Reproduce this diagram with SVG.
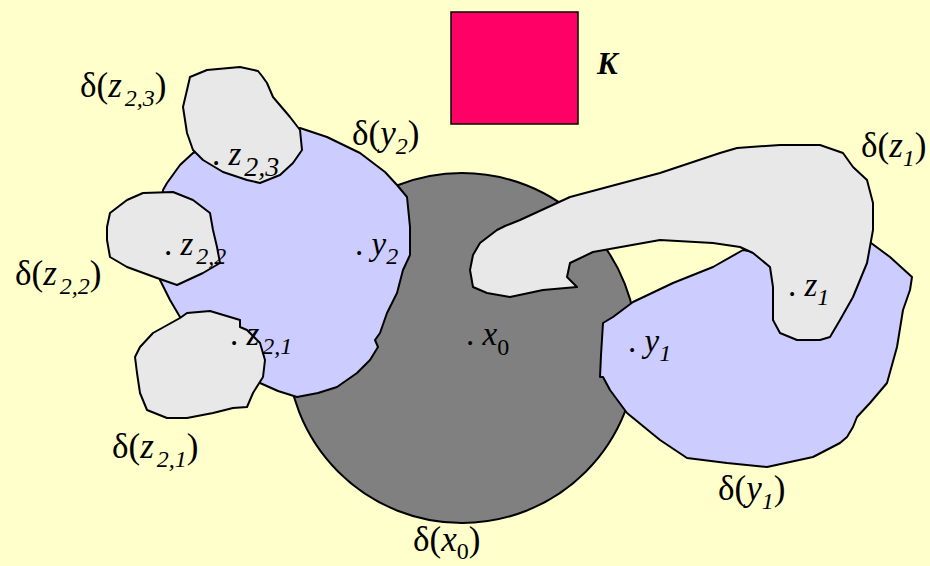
<svg xmlns="http://www.w3.org/2000/svg" width="930" height="566" viewBox="0 0 930 566">
<style>
.sh{stroke:#000;stroke-width:2;stroke-linejoin:round}
.lav{fill:#CCCCFF}
.gry{fill:#E8E8E8}
text{font-family:"Liberation Serif","Times New Roman",serif;font-size:35px;fill:#000}
.pt{font-size:33px}
.i{font-style:italic}
.s{font-size:24px}
.s2{font-size:28px}
</style>
<rect width="930" height="566" fill="#FFFFCC"/>
<g id="K">
<rect x="451" y="12" width="127" height="112" fill="#FF0066" stroke="#000" stroke-width="1.5"/>
<text x="597" y="74" style="font-weight:bold;font-style:italic;font-size:31px">K</text>
</g>
<g id="x0">
<circle cx="462" cy="348" r="175" fill="#808080" class="sh"/>
</g>
<g id="y2">
<path class="sh lav" d="M300,128 L327,137 L360,153 L385,172 L397,185 L407,197 L410,227 L410,255 L403,270 L397,293 L387,313 L380,333 L375,340 L378,347 L370,360 L357,373 L337,387 L318,393 L297,397 L278,391 L260,383 L240,375 L180,317 L170,300 L160,280 L160,230 L163,190 L167,183 L180,165 L193,153 L230,140 L270,130 Z"/>
</g>
<g id="z23">
<path class="sh gry" d="M190,77 L207,70 L240,67 L258,71 L262,76 L267,83 L273,97 L290,117 L300,130 L302,150 L293,163 L280,175 L260,183 L247,180 L223,172 L203,160 L193,150 L187,133 L183,107 L187,90 Z"/>
</g>
<g id="z22">
<path class="sh gry" d="M110,213 L127,200 L143,193 L173,192 L193,200 L210,213 L213,230 L217,247 L220,263 L203,273 L177,285 L157,278 L127,267 L110,257 L107,240 L107,227 Z"/>
</g>
<g id="z21">
<path class="sh gry" d="M140,347 L153,333 L180,318 L187,313 L210,311 L240,320 L240,327 L247,330 L260,343 L265,360 L263,377 L253,393 L247,407 L233,408 L213,413 L187,418 L167,418 L147,410 L140,393 L137,373 L135,357 Z"/>
</g>
<g id="y1">
<path class="sh lav" d="M603,323 L613,317 L633,302 L673,283 L713,267 L743,250 L760,253 L800,260 L867,240 L890,257 L912,277 L910,290 L903,310 L897,347 L887,383 L870,403 L857,417 L853,427 L847,437 L840,443 L813,457 L767,467 L727,463 L687,458 L660,440 L627,413 L610,390 L603,377 L600,377 L601,355 Z"/>
</g>
<g id="z1">
<path class="sh gry" d="M473,287 L470,270 L473,255 L480,243 L497,230 L505,226 L520,220 L570,197 L660,173 L720,153 L737,148 L780,145 L820,145 L843,153 L853,167 L867,180 L873,203 L873,230 L867,263 L853,297 L840,320 L830,337 L820,340 L797,340 L780,333 L773,320 L773,287 L770,267 L753,253 L740,247 L713,243 L660,240 L593,252 L570,263 L567,277 L573,283 L577,287 L543,290 L510,297 L487,293 Z"/>
</g>
<g id="labels">
<text x="80" y="97">δ(<tspan class="i">z</tspan><tspan class="s i" dx="3" dy="9">2,3</tspan><tspan dy="-9">)</tspan></text>
<text x="352" y="145">δ(<tspan class="i">y</tspan><tspan class="s i" dy="9">2</tspan><tspan dy="-9">)</tspan></text>
<text x="212" y="165" class="pt">. <tspan class="i">z</tspan><tspan class="s2 i" dx="3" dy="11">2,3</tspan></text>
<text x="164" y="255" class="pt">. <tspan class="i">z</tspan><tspan class="s i" dx="3" dy="9">2,2</tspan></text>
<text x="15" y="285">δ(<tspan class="i">z</tspan><tspan class="s i" dx="3" dy="9">2,2</tspan><tspan dy="-9">)</tspan></text>
<text x="355" y="255" class="pt">. <tspan class="i">y</tspan><tspan class="s i" dy="9">2</tspan></text>
<text x="230" y="345" class="pt">. <tspan class="i">z</tspan><tspan class="s i" dx="3" dy="9">2,1</tspan></text>
<text x="112" y="458">δ(<tspan class="i">z</tspan><tspan class="s i" dx="3" dy="9">2,1</tspan><tspan dy="-9">)</tspan></text>
<text x="466" y="345" class="pt">. <tspan class="i">x</tspan><tspan class="s" dy="10">0</tspan></text>
<text x="413" y="551">δ(<tspan class="i">x</tspan><tspan class="s" dy="8">0</tspan><tspan dy="-8">)</tspan></text>
<text x="628" y="352" class="pt">. <tspan class="i">y</tspan><tspan class="s i" dy="9">1</tspan></text>
<text x="788" y="296" class="pt">. <tspan class="i">z</tspan><tspan class="s i" dy="9">1</tspan></text>
<text x="861" y="157">δ(<tspan class="i">z</tspan><tspan class="s i" dy="9">1</tspan><tspan dy="-9">)</tspan></text>
<text x="718" y="500">δ(<tspan class="i">y</tspan><tspan class="s i" dy="9">1</tspan><tspan dy="-9">)</tspan></text>
</g>
</svg>
